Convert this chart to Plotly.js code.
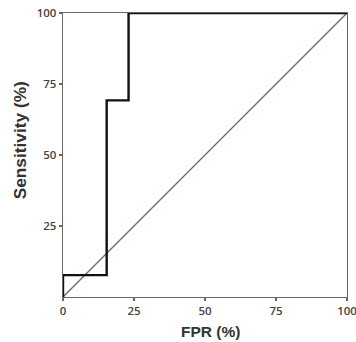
<!DOCTYPE html>
<html>
<head>
<meta charset="utf-8">
<script src="https://cdn.plot.ly/plotly-3.0.1.min.js"></script>
<style>html,body{margin:0;padding:0;background:#fff;}#chart{width:356px;height:342px;}</style>
</head>
<body>
<div id="chart"></div>
<script>
var rocFPR = [0, 0, 15.38, 15.38, 23.08, 23.08, 100];
var rocSens = [0, 7.69, 7.69, 69.23, 69.23, 100, 100];
var refX = [0, 100];
var refY = [0, 100];
var xTickVals = [0, 25, 50, 75, 100];
var xTickText = ["0", "25", "50", "75", "100"];
var yTickVals = [25, 50, 75, 100];
var yTickText = ["25", "50", "75", "100"];
var xTitle = "FPR (%)";
var yTitle = "Sensitivity (%)";

var traces = [
  {x: refX, y: refY, mode: "lines", line: {color: "#6e6462", width: 1.3}, hoverinfo: "skip", cliponaxis: false},
  {x: rocFPR, y: rocSens, mode: "lines", line: {color: "#111111", width: 2.4, shape: "linear"}, cliponaxis: false}
];
var axisFont = {family: "Open Sans, sans-serif", size: 11.5, color: "#444", weight: 600};
var titleFontFamily = "Liberation Sans, Arial, sans-serif";
var layout = {
  width: 356, height: 342,
  margin: {l: 63, r: 9, t: 13, b: 45},
  paper_bgcolor: "#fff", plot_bgcolor: "#fff",
  showlegend: false,
  xaxis: {
    range: [0, 100], tickvals: xTickVals, ticktext: xTickText,
    showgrid: false, zeroline: false, showline: true, mirror: true,
    linecolor: "#6e6462", linewidth: 1.3,
    ticks: "outside", ticklen: 3, tickcolor: "#6e6462", tickwidth: 1.3,
    tickfont: axisFont, ticklabeloverflow: "allow"
  },
  yaxis: {
    range: [0, 100], tickvals: yTickVals, ticktext: yTickText,
    showgrid: false, zeroline: false, showline: true, mirror: true,
    linecolor: "#6e6462", linewidth: 1.3,
    ticks: "outside", ticklen: 3, tickcolor: "#6e6462", tickwidth: 1.3,
    tickfont: axisFont, ticklabeloverflow: "allow"
  },
  annotations: [
    {text: xTitle, xref: "paper", yref: "paper", x: 0.521, y: -0.121, xanchor: "center", yanchor: "middle",
     showarrow: false, font: {family: titleFontFamily, size: 15.5, color: "#333", weight: "bold"}},
    {text: yTitle, xref: "paper", yref: "paper", x: -0.151, y: 0.552, xanchor: "center", yanchor: "middle",
     textangle: -90, showarrow: false, font: {family: titleFontFamily, size: 17.3, color: "#333", weight: "bold"}}
  ]
};
Plotly.newPlot("chart", traces, layout, {staticPlot: true, displayModeBar: false});
</script>
</body>
</html>
